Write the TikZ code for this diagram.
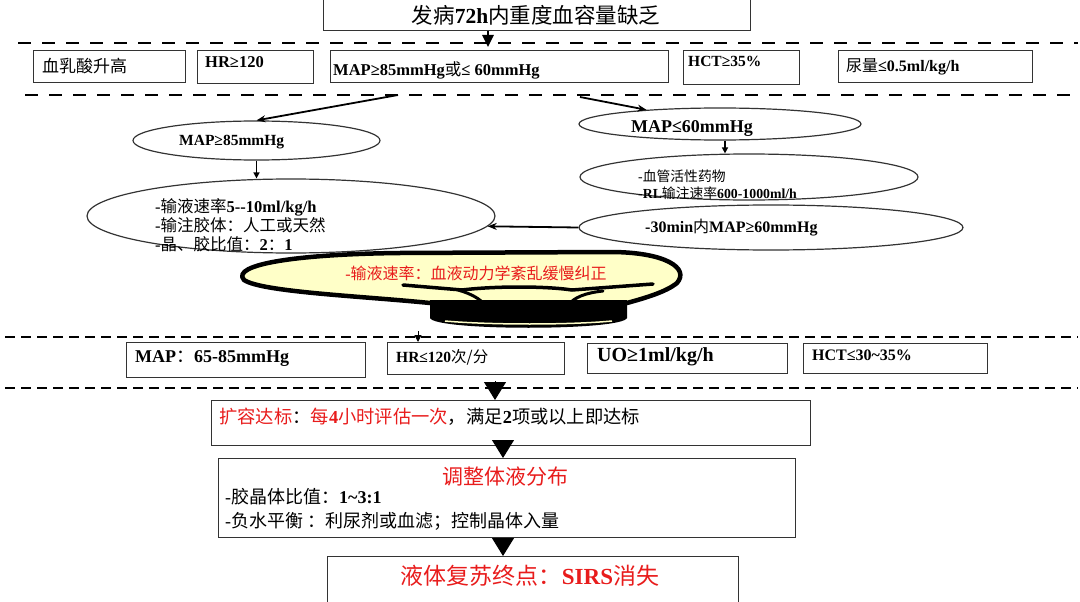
\documentclass[tikz,border=0pt]{standalone}
\usepackage{fontspec}
\setmainfont{Liberation Serif}
\newfontfamily\cjk{Noto Sans CJK SC}
\usetikzlibrary{shapes.geometric,arrows.meta,calc}
\newcommand\zh[1]{{\cjk #1}}
\newcommand\fs[2]{\fontsize{#1}{#2}\selectfont}
\definecolor{zred}{RGB}{232,28,28}
\definecolor{dishy}{RGB}{255,255,200}
\begin{document}
\begin{tikzpicture}[x=1pt,y=-1pt,
  box/.style={draw=black!80,line width=1.3pt,rectangle,inner sep=0,anchor=north west},
  ell/.style={draw=black!80,line width=1.2pt,ellipse,inner sep=0},
  txt/.style={inner sep=0,anchor=west,align=left},
  ctxt/.style={inner sep=0,align=center},
  dashA/.style={line width=2.8pt,dash pattern=on 13pt off 11pt},
  dashB/.style={line width=2pt,dash pattern=on 10pt off 6pt},
  thinarrow/.style={line width=1.8pt,-{Stealth[length=9pt,width=7pt]}},
  downarrow/.style={line width=1.5pt,-{Triangle[length=6pt,width=6pt]}},
  bigtri/.style={line width=1pt,-{Triangle[length=18pt,width=22pt]}}]
\useasboundingbox (0,0) rectangle (1080,602);

% top box
\node[box,minimum width=427pt,minimum height=31pt] (top) at (323,-1) {};
\node[ctxt,font=\fs{21.5}{25}] (toptxt) at (536,15) {\zh{发病}\textbf{72h}\zh{内重度血容量缺乏}};

% dashed lines
\draw[dashA] (18,43) -- (1078,43);
\draw[dashA] (25,95) -- (1078,95);
\draw[dashB] (5,337) -- (1078,337);
\draw[dashB] (5,388) -- (1078,388);

% top arrow
\coordinate (d1) at (488,47);
\draw[line width=2.5pt,-{Triangle[length=12pt,width=11pt]}] (top.south -| d1) -- (d1);

% row 1
\node[box,minimum width=152pt,minimum height=32pt] (r1a) at (33,50) {};
\node[box,minimum width=116pt,minimum height=33pt] (r1b) at (197,50) {};
\node[box,minimum width=338pt,minimum height=32pt] (r1c) at (330,50) {};
\node[box,minimum width=116pt,minimum height=34pt] (r1d) at (683,50) {};
\node[box,minimum width=194pt,minimum height=32pt] (r1e) at (838,50) {};
\node[txt,font=\fs{17}{20}] (r1at) at (42,66) {\zh{血乳酸升高}};
\node[txt,font=\fs{16.5}{19}] (r1bt) at (205,62) {\textbf{HR≥120}};
\node[txt,font=\fs{16.5}{19}] (r1ct) at (333,70) {\textbf{MAP≥85mmHg}\zh{或}\textbf{≤ 60mmHg}};
\node[txt,font=\fs{15.5}{18}] (r1dt) at (688,61) {\textbf{HCT≥35\%}};
\node[txt,font=\fs{16}{19}] (r1et) at (846,67) {\zh{尿量}\textbf{≤0.5ml/kg/h}};

% ellipses
\node[ell,minimum width=247pt,minimum height=39pt] (e1) at (256.5,140.5) {};
\node[txt,font=\fs{15.5}{18}] (e1t) at (179,142) {\textbf{MAP≥85mmHg}};
\node[ell,minimum width=282pt,minimum height=32pt] (e2) at (720,124) {};
\node[ctxt,font=\fs{18}{21}] (e2t) at (692,129) {\textbf{MAP≤60mmHg}};
\node[ell,minimum width=408pt,minimum height=74pt] (e3) at (291,216) {};
\node[txt,font=\fs{16.5}{19}] (e3t) at (155,225) {-\zh{输液速率}\textbf{5-{}-10ml/kg/h}\\
  -\zh{输注胶体：人工或天然}\\
  -\zh{晶、胶比值：}\textbf{2}\zh{：}\textbf{1}};
\node[ell,minimum width=338pt,minimum height=46pt] (e4) at (749,177) {};
\node[txt,font=\fs{13.8}{17}] (e4t) at (638,184.5) {-\zh{血管活性药物}\\
  -\textbf{RL}\zh{输注速率}\textbf{600-1000ml/h}};
\node[ell,minimum width=384pt,minimum height=45pt] (e5) at (771,227.5) {};
\node[txt,font=\fs{16}{19}] (e5t) at (645,228) {\textbf{-30min}\zh{内}\textbf{MAP≥60mmHg}};

% arrows among ellipses
\coordinate (s1) at (398,95);
\coordinate (s2) at (580,97);
\draw[thinarrow] (s1) -- (e1.north);
\draw[thinarrow] (s2) -- (e2);
\draw[downarrow] (e1.south) -- (e1.south |- e3.north);
\draw[downarrow] ([xshift=5pt]e2.south) -- ([xshift=5pt]e2.south |- e4.north);
\draw[line width=1.8pt,-{Stealth[length=9pt,width=7pt]}] (e5.west) -- (e3.-3.4);

% dish
\filldraw[fill=dishy,draw=black,line width=4.5pt,line join=round]
  (244,280) .. controls (230,264) and (300,254) .. (400,253) -- (610,252)
  .. controls (665,252) and (690,268) .. (677,283)
  .. controls (666,292) and (645,298) .. (627,303) -- (430,303)
  .. controls (360,296) and (262,292) .. (244,280) -- cycle;
\fill[black] (430,300) -- (627,300) -- (627,318) .. controls (622,331) and (435,331) .. (430,318) -- cycle;
\draw[dishy,line width=1.5pt] (445,321) .. controls (490,325) and (570,325) .. (612,321);
\draw[line width=3.5pt,line cap=round] (403,285) -- (462,290) .. controls (495,286) and (545,286) .. (572,290) -- (653,284);
\draw[line width=3pt,line cap=round] (458,290) .. controls (472,294) and (480,299) .. (485,305);
\draw[line width=3pt,line cap=round] (568,305) .. controls (575,297) and (585,293) .. (603,291);
\node[ctxt,text=zred,font=\fs{16}{19}] (dt) at (476,273) {-\zh{输液速率：血液动力学紊乱缓慢纠正}};

% row 2
\coordinate (sm) at (418,331);
\coordinate (sme) at (418,342);
\draw[line width=1pt,-{Triangle[length=7pt,width=7pt]}] (sm) -- (sme);
\node[box,minimum width=239pt,minimum height=35pt] (r2a) at (126,342) {};
\node[box,minimum width=177pt,minimum height=32pt] (r2b) at (387,342) {};
\node[box,minimum width=200pt,minimum height=30pt] (r2c) at (587,343) {};
\node[box,minimum width=184pt,minimum height=30pt] (r2d) at (803,343) {};
\node[txt,font=\fs{18}{21}] (r2at) at (135,358) {\textbf{MAP}\zh{：}\textbf{65-85mmHg}};
\node[txt,font=\fs{15.5}{18}] (r2bt) at (396,357) {\textbf{HR≤120}\zh{次/分}};
\node[txt,font=\fs{20}{24}] (r2ct) at (597,357) {\textbf{UO≥1ml/kg/h}};
\node[txt,font=\fs{16}{19}] (r2dt) at (812,355) {\textbf{HCT≤30\textasciitilde35\%}};

% lower boxes
\node[box,minimum width=599pt,minimum height=45pt] (b1) at (211,400) {};
\node[txt,font=\fs{18.3}{21}] (b1t) at (219,417) {\textcolor{zred}{\zh{扩容达标}}\zh{：}\textcolor{zred}{\zh{每}\textbf{4}\zh{小时评估一次}}\zh{，满足}\textbf{2}\zh{项或以上即达标}};
\node[box,minimum width=577pt,minimum height=79pt] (b2) at (218,458) {};
\node[ctxt,text=zred,font=\fs{21}{24}] (b2h) at (505,477) {\zh{调整体液分布}};
\node[txt,font=\fs{18}{24}] (b2t) at (225,509) {-\zh{胶晶体比值：}\textbf{1\textasciitilde3:1}\\
  -\zh{负水平衡 ：利尿剂或血滤；控制晶体入量}};
\node[box,minimum width=411pt,minimum height=46pt] (b3) at (327,556) {};
\node[ctxt,text=zred,font=\fs{23}{27}] (b3t) at (530,576) {\zh{液体复苏终点：}\textbf{SIRS}\zh{消失}};

% big triangles
\coordinate (c1) at (495,381);
\draw[bigtri] (c1) -- (c1 |- b1.north);
\coordinate (c2) at (503,441);
\draw[bigtri] (c2) -- (c2 |- b2.north);
\coordinate (c3) at (503,538);
\draw[bigtri] (c3) -- (c3 |- b3.north);
\end{tikzpicture}
\end{document}
